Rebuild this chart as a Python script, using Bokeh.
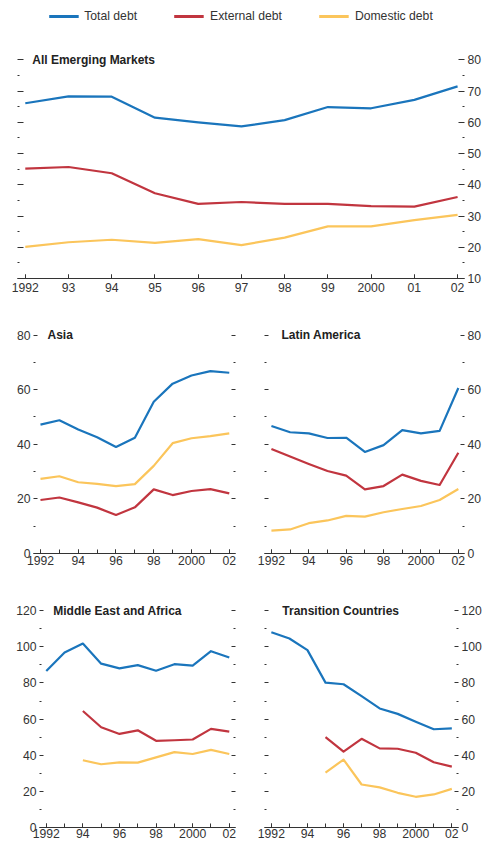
from bokeh.plotting import figure
from bokeh.layouts import column, row
from bokeh.models import (ColumnDataSource, FixedTicker, Range1d, Label,
                          Legend, LegendItem, LinearAxis)
from bokeh.embed import file_html
from bokeh.resources import INLINE

NaN = float("nan")

years = [1992, 1993, 1994, 1995, 1996, 1997, 1998, 1999, 2000, 2001, 2002]

# All Emerging Markets
em_total = [66.1, 68.3, 68.2, 61.5, 60.0, 58.7, 60.7, 64.9, 64.5, 67.2, 71.5]
em_external = [45.2, 45.7, 43.7, 37.3, 33.9, 34.5, 33.9, 33.9, 33.2, 33.0, 36.1]
em_domestic = [20.1, 21.6, 22.4, 21.4, 22.6, 20.7, 23.1, 26.7, 26.7, 28.7, 30.4]

# Asia
asia_total = [47.2, 48.8, 45.4, 42.6, 39.0, 42.4, 55.6, 62.2, 65.2, 66.8, 66.2]
asia_external = [19.6, 20.5, 18.7, 16.8, 14.1, 16.9, 23.5, 21.4, 22.9, 23.6, 22.0]
asia_domestic = [27.3, 28.3, 26.1, 25.5, 24.7, 25.4, 32.1, 40.4, 42.2, 43.0, 44.0]

# Latin America
la_total = [46.7, 44.4, 44.0, 42.3, 42.4, 37.2, 39.7, 45.2, 44.0, 44.9, 60.6]
la_external = [38.3, 35.5, 32.8, 30.2, 28.5, 23.5, 24.7, 28.9, 26.6, 25.1, 36.9]
la_domestic = [8.4, 8.8, 11.1, 12.1, 13.8, 13.5, 15.1, 16.3, 17.4, 19.6, 23.6]

# Middle East and Africa
mea_total = [86.6, 96.9, 101.8, 90.7, 88.1, 89.9, 86.8, 90.4, 89.6, 97.6, 94.1]
mea_external = [NaN, NaN, 64.5, 55.5, 51.8, 53.8, 48.0, 48.3, 48.7, 54.6, 53.1]
mea_domestic = [NaN, NaN, 37.2, 35.0, 36.1, 35.9, 38.8, 41.7, 40.7, 43.0, 40.7]

# Transition Countries
tc_total = [108.1, 104.6, 98.2, 80.2, 79.3, 72.7, 65.9, 62.9, 58.6, 54.4, 54.9]
tc_external = [NaN, NaN, NaN, 50.0, 42.0, 49.1, 43.8, 43.6, 41.4, 36.1, 33.7]
tc_domestic = [NaN, NaN, NaN, 30.4, 37.6, 23.8, 22.2, 19.2, 17.0, 18.3, 21.4]

series_names = ["Total debt", "External debt", "Domestic debt"]
all_labels = {1992: "1992", 1993: "93", 1994: "94", 1995: "95", 1996: "96",
              1997: "97", 1998: "98", 1999: "99", 2000: "2000", 2001: "01",
              2002: "02"}
even_years = [1992, 1994, 1996, 1998, 2000, 2002]

FONT = "Liberation Sans"
TEXT = "#333333"
COLORS = ["#1a75bc", "#c1353f", "#fbc55b"]
LABEL_SIZE = "12.2px"


def style_yaxis(ax, labeled, tick_len):
    ax.axis_line_color = None
    ax.major_tick_line_color = TEXT
    ax.minor_tick_line_color = TEXT
    ax.major_tick_in = tick_len
    ax.major_tick_out = 0
    ax.minor_tick_in = 2
    ax.minor_tick_out = 0
    if labeled:
        ax.major_label_text_font = FONT
        ax.major_label_text_font_size = LABEL_SIZE
        ax.major_label_text_color = TEXT
        ax.major_label_standoff = 3
    else:
        ax.major_label_text_color = None
        ax.major_label_text_font_size = "1px"
        ax.major_label_standoff = 0


def make_panel(width, height, borders, xr, yr, ymajor, yminor, label_side,
               xmajor, title, title_dx, data, ytick_len=4, xstandoff=2):
    left, right, top, bottom = borders
    p = figure(width=width, height=height, x_range=Range1d(*xr),
               y_range=Range1d(*yr), output_backend="svg",
               toolbar_location=None, x_axis_location=None,
               y_axis_location=None, min_border_left=left,
               min_border_right=right, min_border_top=top,
               min_border_bottom=bottom)
    p.outline_line_color = None
    p.grid.visible = False
    p.background_fill_color = "white"
    p.border_fill_color = "white"

    xa = LinearAxis(ticker=FixedTicker(ticks=xmajor, minor_ticks=years))
    xa.major_label_overrides = {y: all_labels[y] for y in xmajor}
    xa.axis_line_color = TEXT
    xa.axis_line_width = 1
    xa.major_tick_line_color = TEXT
    xa.minor_tick_line_color = TEXT
    xa.major_tick_in = 4
    xa.major_tick_out = 0
    xa.minor_tick_in = 4
    xa.minor_tick_out = 0
    xa.major_label_standoff = xstandoff
    xa.major_label_text_font = FONT
    xa.major_label_text_font_size = LABEL_SIZE
    xa.major_label_text_color = TEXT
    p.add_layout(xa, "below")

    for side in ("left", "right"):
        ya = LinearAxis(ticker=FixedTicker(ticks=ymajor, minor_ticks=yminor))
        style_yaxis(ya, side == label_side, ytick_len)
        p.add_layout(ya, side)

    src = ColumnDataSource(dict(x=years, total=data[0], external=data[1],
                                domestic=data[2]))
    for key, color in zip(["total", "external", "domestic"], COLORS):
        p.line("x", key, source=src, line_color=color, line_width=2.2,
               line_join="round")

    p.add_layout(Label(x=years[0], y=ymajor[-1], x_offset=title_dx, text=title,
                       text_font=FONT, text_font_style="bold",
                       text_font_size="12px", text_color="#222222",
                       text_baseline="middle", text_align="left"))
    return p


# Legend strip: legend proxies reuse the first panel's series, which lie
# outside this strip's ranges, so only the legend itself is visible.
leg = figure(width=484, height=32, x_range=Range1d(0, 1), y_range=Range1d(0, 1),
             output_backend="svg", toolbar_location=None,
             x_axis_location=None, y_axis_location=None, min_border=0)
leg.outline_line_color = None
leg.grid.visible = False
items = []
for name, color, ys in zip(series_names, COLORS,
                           (em_total, em_external, em_domestic)):
    r = leg.line(x=years, y=ys, line_color=color, line_width=3)
    items.append(LegendItem(label=name, renderers=[r]))
legend = Legend(items=items, orientation="horizontal", location="center",
                border_line_color=None, background_fill_alpha=0,
                glyph_width=30, glyph_height=14, label_standoff=6,
                spacing=37, padding=0, margin=0,
                label_text_font=FONT, label_text_font_size=LABEL_SIZE,
                label_text_color=TEXT)
leg.add_layout(legend)

top = make_panel(484, 266, (17, 19, 18, 20), (1991.82, 2002.16), (10, 83),
                 list(range(10, 81, 10)), list(range(15, 80, 10)), "right",
                 years, "All Emerging Markets", 7,
                 (em_total, em_external, em_domestic), ytick_len=6,
                 xstandoff=4)

asia = make_panel(250, 272, (33, 15, 27, 17), (1991.63, 2002.33), (0, 83.5),
                  [0, 20, 40, 60, 80], [10, 30, 50, 70], "left",
                  even_years, "Asia", 7,
                  (asia_total, asia_external, asia_domestic))
latin = make_panel(234, 272, (14, 18, 27, 17), (1991.63, 2002.33), (0, 83.5),
                   [0, 20, 40, 60, 80], [10, 30, 50, 70], "right",
                   even_years, "Latin America", 10,
                   (la_total, la_external, la_domestic))
mea = make_panel(250, 274, (39, 15, 33, 17), (1991.63, 2002.34), (0, 124),
                 list(range(0, 121, 20)), list(range(10, 120, 20)), "left",
                 even_years, "Middle East and Africa", 7,
                 (mea_total, mea_external, mea_domestic), xstandoff=1)
trans = make_panel(234, 274, (14, 24, 33, 17), (1991.62, 2002.37), (0, 124),
                   list(range(0, 121, 20)), list(range(10, 120, 20)), "right",
                   even_years, "Transition Countries", 11,
                   (tc_total, tc_external, tc_domestic), xstandoff=1)

layout = column(leg, top, row(asia, latin), row(mea, trans))

open("out.html", "w").write(file_html(layout, INLINE))
